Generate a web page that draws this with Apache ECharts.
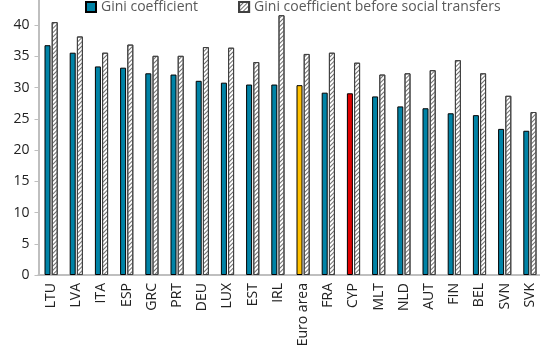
<!DOCTYPE html>
<html>
<head>
<meta charset="utf-8">
<script src="https://cdn.jsdelivr.net/npm/echarts@6/dist/echarts.min.js"></script>
<style>
  html, body { margin: 0; padding: 0; background: #fff; }
  #chart { width: 540px; height: 352px; }
</style>
</head>
<body>
<div id="chart"></div>
<script>
const categories = ['LTU', 'LVA', 'ITA', 'ESP', 'GRC', 'PRT', 'DEU', 'LUX', 'EST', 'IRL',
  'Euro area', 'FRA', 'CYP', 'MLT', 'NLD', 'AUT', 'FIN', 'BEL', 'SVN', 'SVK'];
const gini = [36.8, 35.6, 33.4, 33.2, 32.3, 32.1, 31.1, 30.8, 30.5, 30.5,
  30.4, 29.2, 29.1, 28.6, 27.0, 26.7, 25.9, 25.6, 23.4, 23.1];
const giniBefore = [40.5, 38.2, 35.6, 36.9, 35.1, 35.1, 36.5, 36.4, 34.1, 41.6,
  35.4, 35.6, 34.0, 32.1, 32.3, 32.8, 34.4, 32.3, 28.7, 26.1];
const yTicks = [0, 5, 10, 15, 20, 25, 30, 35, 40, 45];

// highlighted bars
const special = { 'Euro area': '#FFC000', 'CYP': '#E00000' };

const chart = echarts.init(document.getElementById('chart'));
const font = 'Open Sans';

chart.setOption({
  animation: false,
  textStyle: { fontFamily: font },
  legend: {
    top: -5,
    left: 80,
    icon: 'rect',
    itemWidth: 10,
    itemHeight: 10,
    itemGap: 40,
    textStyle: { color: '#595959', fontSize: 14, fontFamily: font },
    data: ['Gini coefficient', 'Gini coefficient before social transfers']
  },
  grid: { left: 38.5, top: -6, width: 504, bottom: 77, containLabel: false, outerBoundsMode: 'none' },
  xAxis: {
    type: 'category',
    data: categories,
    axisLine: { lineStyle: { color: '#BFBFBF', width: 2 } },
    axisTick: { inside: true, length: 4, lineStyle: { color: '#BFBFBF' } },
    axisLabel: { rotate: 90, margin: 8, color: '#222', fontSize: 14, fontFamily: font, interval: 0 }
  },
  yAxis: {
    type: 'value',
    min: yTicks[0],
    max: yTicks[yTicks.length - 1],
    interval: 5,
    axisLine: { show: true, lineStyle: { color: '#BFBFBF', width: 2 } },
    axisTick: { show: true, length: 4, lineStyle: { color: '#BFBFBF' } },
    splitLine: { show: false },
    axisLabel: { color: '#222', fontSize: 14, margin: 9, fontFamily: font }
  },
  series: [
    {
      name: 'Gini coefficient',
      type: 'bar',
      barWidth: 6,
      barGap: '20%',
      itemStyle: { color: '#0083A6', borderColor: '#000', borderWidth: 1 },
      data: gini.map((v, i) => special[categories[i]]
        ? { value: v, itemStyle: { color: special[categories[i]] } }
        : v)
    },
    {
      name: 'Gini coefficient before social transfers',
      type: 'bar',
      barWidth: 6,
      itemStyle: {
        color: '#FFFFFF',
        borderColor: '#404040',
        borderWidth: 1,
        decal: {
          symbol: 'rect',
          symbolSize: 1,
          color: '#707070',
          dashArrayX: [1, 0],
          dashArrayY: [1, 1.5],
          rotation: -Math.PI / 4
        }
      },
      data: giniBefore
    }
  ]
});
</script>
</body>
</html>
